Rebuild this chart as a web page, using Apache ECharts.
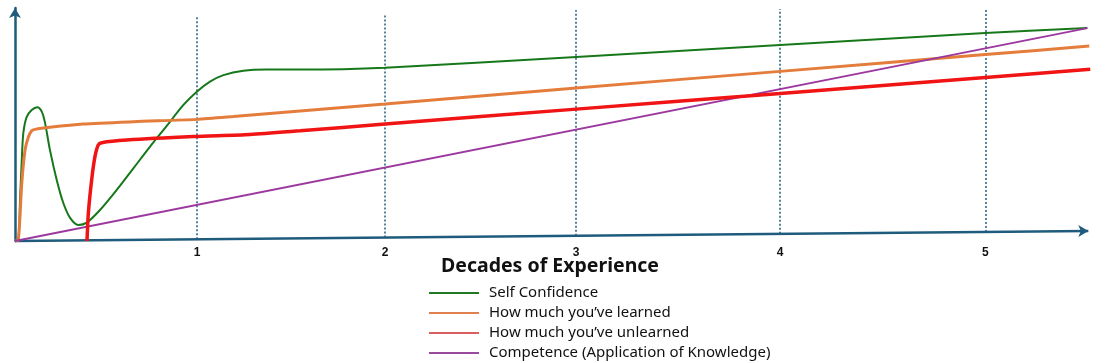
<!DOCTYPE html>
<html>
<head>
<meta charset="utf-8">
<script src="https://cdn.jsdelivr.net/npm/echarts@6/dist/echarts.min.js"></script>
<style>html,body{margin:0;padding:0;background:#fff;}#c{width:1105px;height:363px;}</style>
</head>
<body>
<div id="c"></div>
<script>
// Decades of experience (x) vs relative level (y, 0-100)
const seriesNames = ['Self Confidence', 'How much you\u2019ve learned', 'How much you\u2019ve unlearned', 'Competence (Application of Knowledge)'];

const selfConfidence = [
  [0,0],[0.017,0.4],[0.026,17.6],[0.035,34.8],[0.043,46.4],[0.060,53.2],[0.086,56.2],[0.115,57.4],
  [0.138,55.5],[0.155,50.6],[0.180,39.1],[0.215,26.2],[0.249,16.3],[0.284,9.9],[0.326,6.9],[0.370,7.9],
  [0.438,13.3],[0.524,21.9],[0.610,31.2],[0.696,40.5],[0.782,49.4],[0.868,58.4],[0.937,64.1],[1.005,68.4],
  [1.074,71.2],[1.177,73.1],[1.297,73.6],[1.469,73.6],[1.907,74.4],[2.892,79.0],[3.943,84.1],[5.0,89.3],[5.526,91.4]
];
const learned = [
  [0,0],[0.017,0.4],[0.035,24.9],[0.052,39.1],[0.069,44.6],[0.086,47.3],[0.103,47.9],[0.180,48.8],
  [0.352,50.2],[0.610,51.2],[0.937,52.2],[1.125,53.4],[1.469,55.8],[1.907,58.8],[2.892,65.7],[3.943,72.8],[5.0,80.0],[5.536,83.7]
];
const unlearned = [
  [0.371,0],[0.378,12.0],[0.395,26.2],[0.412,36.2],[0.429,41.2],[0.447,42.2],[0.576,43.3],[0.919,44.8],
  [1.211,45.7],[1.469,47.3],[1.907,50.2],[2.892,56.6],[3.943,63.3],[5.0,70.2],[5.541,73.7]
];
const competence = [[0,0],[5.526,91.4]];

// axis / gridline geometry (decade ticks)
const tickPositions = [0.938, 1.907, 2.892, 3.943, 5.0];
const tickLabels = ['1', '2', '3', '4', '5'];
const gridLineTops = [96.6, 97.4, 99.1, 99.6, 100];
const xAxisStart = [0, 0];
const xAxisEnd = [5.531, 4.3];

const lineColors = ['#16781a', '#e47d3c', '#f01414', '#9c399e'];
const legendColors = ['#1f7a22', '#e08050', '#dc5f5f', '#9a4a9c'];
const lineWidths = [2, 3, 3.5, 1.8];
const axisColor = '#1f5b7c';

const axisSlope = xAxisEnd[1] / xAxisEnd[0];
const gridLines = tickPositions.map((x, i) => [
  { coord: [x, x * axisSlope] }, { coord: [x, gridLineTops[i]] }
]);

const dataSets = [selfConfidence, learned, unlearned, competence];
const smoothing = [0.3, 0.25, 0.25, 0];

const chart = echarts.init(document.getElementById('c'), null, { renderer: 'canvas' });
const series = dataSets.map((d, i) => ({
  name: seriesNames[i],
  type: 'line',
  data: d,
  showSymbol: false,
  symbol: 'none',
  smooth: smoothing[i],
  color: legendColors[i],
  lineStyle: { color: lineColors[i], width: lineWidths[i] },
  z: i === 2 ? 6 : 5
}));
series.push({
  type: 'line', name: 'axis', data: [], silent: true,
  markLine: {
    silent: true, symbol: ['none', 'arrow'], symbolSize: [9, 10],
    label: { show: false },
    lineStyle: { color: axisColor, width: 2.5, type: 'solid' },
    data: [[{ coord: xAxisStart }, { coord: xAxisEnd }]]
  }
});
series.push({
  type: 'line', name: 'grid', data: [], silent: true, z: 1,
  markLine: {
    silent: true, symbol: ['none', 'none'],
    label: { show: false },
    lineStyle: { color: axisColor, width: 1.5, type: [2, 2] },
    data: gridLines
  }
});

chart.setOption({
  animation: false,
  backgroundColor: '#ffffff',
  title: {
    text: 'Decades of Experience',
    left: 436, top: 251,
    textStyle: { fontFamily: 'Noto Sans', fontWeight: 'bold', fontSize: 19.5, color: '#111' }
  },
  legend: {
    orient: 'vertical', left: 429, top: 284, padding: 0, height: 80, width: 400,
    data: seriesNames.map((n, i) => ({ name: n, itemStyle: { color: legendColors[i] } })),
    icon: 'rect', itemWidth: 50, itemHeight: 2, itemGap: 2,
    textStyle: { fontFamily: 'Noto Sans', fontSize: 15, color: '#111', lineHeight: 18, padding: [0, 0, 0, 5] },
    selectedMode: false
  },
  grid: { left: 15, right: 13, top: 8, bottom: 122, containLabel: false },
  xAxis: {
    type: 'value', min: 0, max: 5.55,
    axisLine: { show: false },
    axisTick: { show: false },
    splitLine: { show: false },
    axisLabel: {
      customValues: tickPositions,
      formatter: v => { const k = tickPositions.indexOf(v); return k >= 0 ? tickLabels[k] : ''; },
      margin: 6, fontFamily: 'Liberation Sans', fontWeight: 'bold', fontSize: 12, color: '#111'
    }
  },
  yAxis: {
    type: 'value', min: 0, max: 100,
    axisLine: { show: true, symbol: ['none', 'arrow'], symbolSize: [9, 10], lineStyle: { color: axisColor, width: 2.5 } },
    axisTick: { show: false },
    axisLabel: { show: false },
    splitLine: { show: false }
  },
  series: series
});
</script>
</body>
</html>
